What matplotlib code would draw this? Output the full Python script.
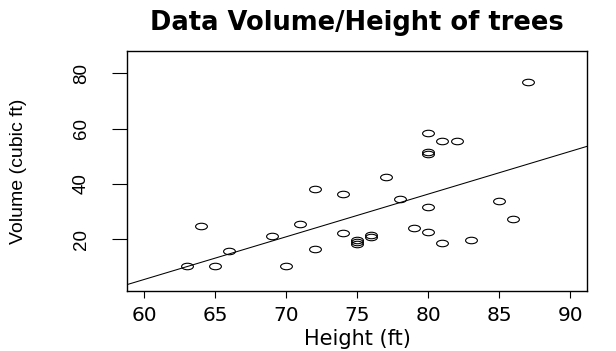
import numpy as np
import matplotlib
matplotlib.use("Agg")
import matplotlib.pyplot as plt
from matplotlib.path import Path
from matplotlib.transforms import Affine2D

# trees data: Height (ft) and Volume (cubic ft)
height = [70, 65, 63, 72, 81, 83, 66, 75, 80, 75, 79, 76, 76, 69, 75, 74,
          85, 86, 71, 64, 78, 80, 74, 72, 77, 81, 82, 80, 80, 80, 87]
volume = [10.3, 10.3, 10.2, 16.4, 18.8, 19.7, 15.6, 18.2, 22.6, 19.9, 24.2,
          21.0, 21.4, 21.3, 19.1, 22.2, 33.8, 27.4, 25.7, 24.9, 34.5, 31.7,
          36.3, 38.3, 42.6, 55.4, 55.7, 58.3, 51.5, 51.0, 77.0]
x_ticks = [60, 65, 70, 75, 80, 85, 90]
y_ticks = [20, 40, 60, 80]

fig = plt.figure(figsize=(6.16, 3.51), dpi=100)
ax = fig.add_axes([0.2062, 0.1718, 0.7472, 0.6829])

# flattened open circles, as in the reference
ellipse = Path.unit_circle().transformed(Affine2D().scale(1, 0.55))
ax.plot(height, volume, linestyle="none", marker=ellipse, markersize=8.5,
        markerfacecolor="none", markeredgecolor="black", markeredgewidth=0.8)

slope, intercept = np.polyfit(height, volume, 1)
ax.axline((0, intercept), slope=slope, color="black", lw=0.75)

ax.set_xlim(58.8, 91.2)
ax.set_ylim(1.43, 88.06)
ax.set_xticks(x_ticks)
ax.set_yticks(y_ticks)
ax.set_xticklabels([str(v) for v in x_ticks], family="DejaVu Sans", fontsize=14.5)
ax.set_yticklabels([str(v) for v in y_ticks], family="Liberation Sans",
                   fontsize=13.5, rotation=90, va="center")
ax.tick_params(axis="x", length=5, width=0.8, pad=6)
ax.tick_params(axis="y", length=10.8, width=0.8, pad=16)
for s in ax.spines.values():
    s.set_linewidth(1)

ax.set_title("Data Volume/Height of trees", family="DejaVu Sans",
             fontweight="bold", fontsize=18.5, pad=15)
ax.set_xlabel("Height (ft)", family="DejaVu Sans", fontsize=15, labelpad=3)
ax.set_ylabel("Volume (cubic ft)", family="Liberation Sans", fontsize=14)
ax.yaxis.set_label_coords(-0.218, 0.5)

fig.savefig("out.png", dpi=100)
